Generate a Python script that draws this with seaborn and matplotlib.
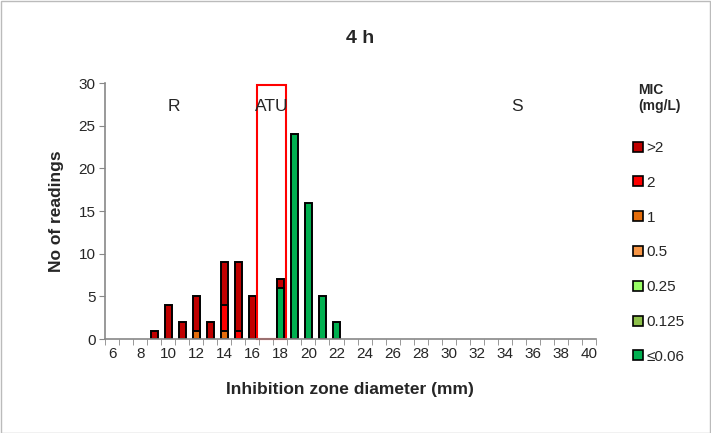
import matplotlib.pyplot as plt
import pandas as pd
import seaborn as sns
from matplotlib.lines import Line2D
from matplotlib.patches import Rectangle

# inhibition zone diameters (mm), one category each
zones = list(range(6, 41))

# number of readings per zone, split by MIC (mg/L)
mic_gt2 = [0, 0, 0, 1, 4, 2, 4, 2, 5, 8, 5, 0, 1] + [0] * 22
mic_2 = [0, 0, 0, 0, 0, 0, 0, 0, 3, 1, 0, 0, 0] + [0] * 22
mic_1 = [0, 0, 0, 0, 0, 0, 1, 0, 1, 0, 0, 0, 0] + [0] * 22
mic_05 = [0] * 35
mic_025 = [0] * 35
mic_0125 = [0] * 35
mic_le006 = [0] * 12 + [6, 24, 16, 5, 2] + [0] * 18

mic_labels = [">2", "2", "1", "0.5", "0.25", "0.125", "\u22640.06"]
mic_colors = ["#C00000", "#FF0000", "#E46C0A", "#F79646", "#99FF66", "#8DC04A", "#00B050"]
series = [mic_gt2, mic_2, mic_1, mic_05, mic_025, mic_0125, mic_le006]

sns.set_style("white")
plt.rcParams["font.family"] = ["Liberation Sans", "DejaVu Sans"]

fig = plt.figure(figsize=(7.11, 4.33), dpi=100)
ax = fig.add_axes([0.148, 0.217, 0.690, 0.591])

order = [str(z) for z in zones]

# stacked bars: draw cumulative totals from the top layer down
for i, (lab, col) in enumerate(zip(mic_labels, mic_colors)):
    cum = [sum(s[k] for s in series[i:]) for k in range(len(zones))]
    df = pd.DataFrame({"zone": order, "cum": cum, "own": series[i]})
    df = df[df["own"] > 0]
    if df.empty:
        continue
    sns.barplot(data=df, x="zone", y="cum", order=order, color=col,
                width=0.5, edgecolor="black", linewidth=1.4, saturation=1,
                errorbar=None, ax=ax)

ax.set_xlim(-0.5, len(zones) - 0.5)
ax.set_ylim(0, 30)
ax.set_yticks(range(0, 31, 5))
ax.set_xticks(range(0, len(zones), 2))
ax.set_xticklabels([str(z) for z in zones[::2]], fontsize=11)
ax.set_xticks([k - 0.5 for k in range(len(zones) + 1)], minor=True)
ax.tick_params(axis="x", which="major", length=0, pad=6)
ax.tick_params(axis="x", which="minor", length=4, color="#888888", direction="out", bottom=True)
ax.tick_params(axis="y", length=4, color="#888888", direction="out", left=True, labelsize=11, pad=3)

for s in ["top", "right"]:
    ax.spines[s].set_visible(False)
for s in ["left", "bottom"]:
    ax.spines[s].set_color("#888888")
    ax.spines[s].set_linewidth(1.2)

ax.set_xlabel("Inhibition zone diameter (mm)", fontsize=12.5, fontweight="bold")
ax.set_ylabel("No of readings", fontsize=12.5, fontweight="bold")
ax.xaxis.set_label_coords(0.498, -0.166)
ax.yaxis.set_label_coords(-0.084, 0.5)
fig.text(0.506, 0.912, "4 h", ha="center", va="center", fontsize=14, fontweight="bold")

# ATU box and region labels
ax.add_patch(Rectangle((10.3, 0), 2.1, 29.8, fill=False, edgecolor="red", linewidth=1.5, clip_on=False))
ax.text(4.4, 27.3, "R", ha="center", va="center", fontsize=12.5)
ax.text(11.4, 27.3, "ATU", ha="center", va="center", fontsize=12.5)
ax.text(28.9, 27.3, "S", ha="center", va="center", fontsize=12.5)

handles = [Line2D([], [], marker="s", linestyle="none", markersize=7,
                  markerfacecolor=c, markeredgecolor="black", markeredgewidth=1.2)
           for c in mic_colors]
leg = fig.legend(handles, mic_labels, loc="upper left", bbox_to_anchor=(0.872, 0.84),
                 frameon=False, fontsize=11, labelspacing=1.36, handlelength=0.6,
                 handletextpad=0.25, title="MIC\n(mg/L)",
                 title_fontproperties={"weight": "bold", "size": 10})
leg._legend_box.sep = 20

fig.add_artist(Rectangle((0.001, 0.001), 0.997, 0.997, transform=fig.transFigure,
                         fill=False, edgecolor="#BBBBBB", linewidth=1.0))

fig.savefig("out.png", dpi=100)
